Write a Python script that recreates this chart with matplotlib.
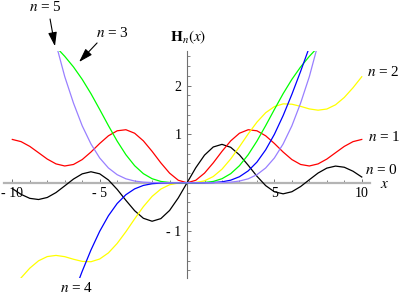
import numpy as np
import matplotlib
matplotlib.use("Agg")
import matplotlib.pyplot as plt

# Struve functions H_n(x) (step 0.5)
x_full = np.arange(-10, 10.01, 0.5)
h0 = [-0.119, -0.238, -0.320, -0.344, -0.302, -0.201, -0.063, 0.077, 0.184, 0.227,
      0.185, 0.058, -0.135, -0.361, -0.574, -0.730, -0.791, -0.737, -0.569, -0.310,
      0.0,
      0.310, 0.569, 0.737, 0.791, 0.730, 0.574, 0.361, 0.135, -0.058, -0.185,
      -0.227, -0.184, -0.077, 0.063, 0.201, 0.302, 0.344, 0.320, 0.238, 0.119]
h1 = [0.892, 0.847, 0.749, 0.619, 0.488, 0.389, 0.346, 0.377, 0.478, 0.633,
      0.809, 0.967, 1.070, 1.092, 1.020, 0.863, 0.647, 0.410, 0.199, 0.052,
      0.0,
      0.052, 0.199, 0.410, 0.647, 0.863, 1.020, 1.092, 1.070, 0.967, 0.809,
      0.633, 0.478, 0.377, 0.346, 0.389, 0.488, 0.619, 0.749, 0.847, 0.892]
h2 = [-2.182, -1.956, -1.756, -1.605, -1.518, -1.494, -1.520, -1.573, -1.617, -1.624,
      -1.568, -1.442, -1.248, -1.006, -0.743, -0.491, -0.280, -0.129, -0.040, -0.005,
      0.0,
      0.005, 0.040, 0.129, 0.280, 0.491, 0.743, 1.006, 1.248, 1.442, 1.568,
      1.624, 1.617, 1.573, 1.520, 1.494, 1.518, 1.605, 1.756, 1.956, 2.182]

x3 = np.arange(-7.5, 7.51, 0.5)
h3 = [2.795, 2.602, 2.384, 2.128, 1.834, 1.509, 1.176, 0.858, 0.578, 0.352,
      0.188, 0.084, 0.028, 0.006, 0.000,
      0.0,
      0.000, 0.006, 0.028, 0.084, 0.188, 0.352, 0.578, 0.858, 1.176, 1.509,
      1.834, 2.128, 2.384, 2.602, 2.795]

x4 = np.arange(-6.5, 7.01, 0.5)
h4 = [-2.293, -1.820, -1.383, -0.998, -0.678, -0.426, -0.245, -0.125, -0.054, -0.019,
      -0.005, -0.001, 0.000,
      0.0,
      0.000, 0.001, 0.005, 0.019, 0.054, 0.125, 0.245, 0.426, 0.678, 0.998,
      1.383, 1.820, 2.293, 2.789]

x5 = np.arange(-7.5, 7.51, 0.5)
h5 = [2.856, 2.185, 1.640, 1.172, 0.799, 0.511, 0.305, 0.167, 0.082, 0.036,
      0.013, 0.004, 0.001, 0.000, 0.000,
      0.0,
      0.000, 0.000, 0.001, 0.004, 0.013, 0.036, 0.082, 0.167, 0.305, 0.511,
      0.799, 1.172, 1.640, 2.185, 2.856]

xtick_vals = [-10, -5, 5, 10]
xtick_labels = ["- 10", "- 5", "5", "10"]
ytick_vals = [-1, 1, 2]
ytick_labels = ["- 1", "1", "2"]

plt.rcParams['font.family'] = ['Liberation Serif', 'DejaVu Serif']
plt.rcParams['mathtext.fontset'] = 'stix'

fig = plt.figure(figsize=(4.03, 2.96), dpi=100)
ax = fig.add_axes([0.00893, 0.0598, 0.9104, 0.7676])
ax.set_xlim(-10.5, 10.5)
ax.set_ylim(-1.965, 2.71)
ax.patch.set_alpha(0)

series = [
    (x_full, h0, 'black'),
    (x_full, h1, '#ff0000'),
    (x_full, h2, '#ffff00'),
    (x3, h3, '#00ff00'),
    (x4, h4, '#0000ff'),
    (x5, h5, '#9980ff'),
]
for xs, ys, c in series:
    ax.plot(xs, ys, color=c, lw=0.9, zorder=3)

for side in ['top', 'right']:
    ax.spines[side].set_visible(False)
ax.spines['left'].set_position(('data', 0))
ax.spines['bottom'].set_position(('data', 0))
ax.spines['bottom'].set_color('#b4b4b4')
ax.spines['bottom'].set_linewidth(1.6)
ax.spines['left'].set_color('#707070')
ax.spines['left'].set_linewidth(0.8)

ax.set_xticks(xtick_vals)
ax.set_xticklabels(xtick_labels)
ax.set_xticks([v for v in range(-10, 11) if v not in (0, -10, -5, 5, 10)], minor=True)
ax.set_yticks(ytick_vals)
ax.set_yticklabels(ytick_labels)
ax.set_yticks([round(v, 1) for v in np.arange(-1.8, 2.7, 0.2) if abs(v - round(v)) > 0.05], minor=True)
ax.tick_params(which='both', direction='in', color='#707070', labelsize=10)
ax.tick_params(axis='x', which='major', length=3, width=0.7, pad=3)
ax.tick_params(axis='x', which='minor', length=2, width=0.6)
ax.tick_params(axis='y', which='major', length=3, width=0.7, pad=4)
ax.tick_params(axis='y', which='minor', length=1.8, width=0.6)

ax.text(0.06, 3.0, r"$\mathbf{H}_n(x)$", fontsize=11, ha='center', va='center')
ax.text(11.33, -0.03, r"$x$", fontsize=11, ha='center', va='center')

labels = [
    (r"$n$ = 0", 11.13, 0.263),
    (r"$n$ = 1", 11.28, 0.949),
    (r"$n$ = 2", 11.22, 2.286),
    (r"$n$ = 4", -6.31, -2.17),
    (r"$n$ = 5", -8.13, 3.607),
    (r"$n$ = 3", -4.29, 3.082),
]
for s, lx, ly in labels:
    ax.text(lx, ly, s, fontsize=11, ha='center', va='center')

arrow = dict(arrowstyle='-|>,head_length=0.7,head_width=0.22', color='black',
             lw=0.8, mutation_scale=12, shrinkA=0, shrinkB=0)
ax.annotate('', xy=(-7.56, 2.81), xytext=(-7.84, 3.37), arrowprops=arrow,
            annotation_clip=False)
ax.annotate('', xy=(-6.18, 2.486), xytext=(-5.15, 2.877), arrowprops=arrow,
            annotation_clip=False)

fig.savefig('out.png', dpi=100)
